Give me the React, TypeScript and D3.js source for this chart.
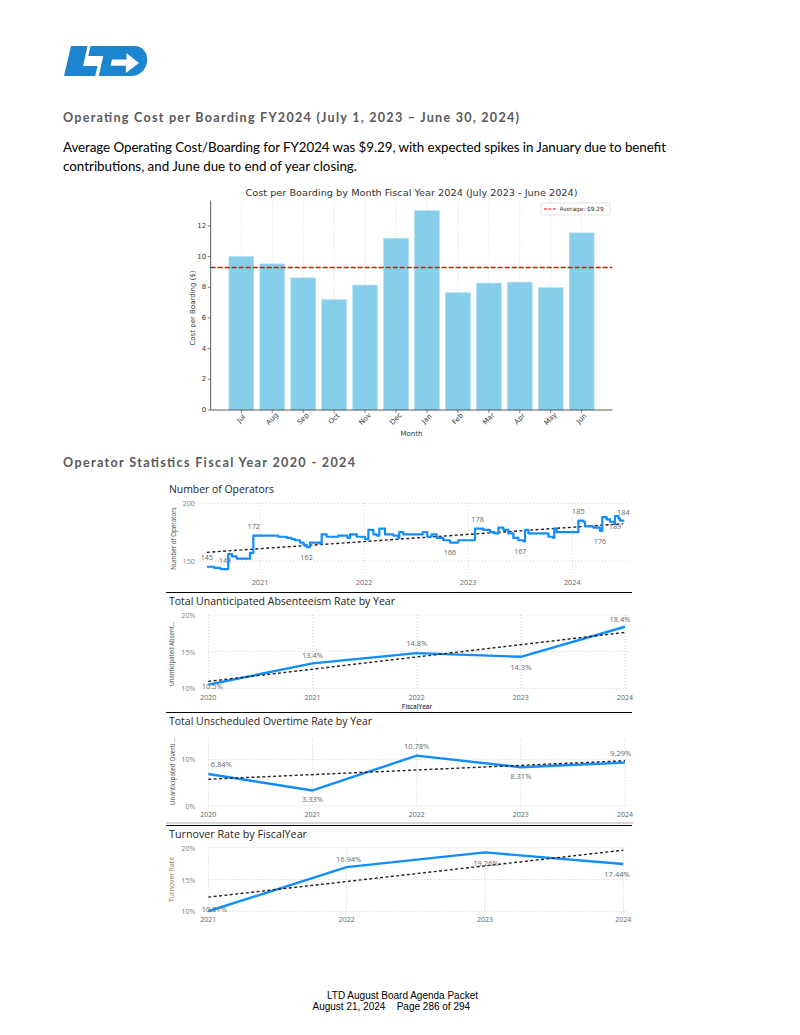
import React from 'react';
import * as d3 from 'd3';

// ---------------- data ----------------
const months = ['Jul', 'Aug', 'Sep', 'Oct', 'Nov', 'Dec', 'Jan', 'Feb', 'Mar', 'Apr', 'May', 'Jun'];
const costPerBoarding = [10.0, 9.52, 8.61, 7.19, 8.14, 11.19, 12.99, 7.64, 8.27, 8.33, 7.97, 11.54];
const averageCost = 9.29;
const costTicks = [0, 2, 4, 6, 8, 10, 12];

const operatorYears = [2021, 2022, 2023, 2024];
const operatorTicks = [150, 200];
// [fractional year, number of operators]
const operatorSeries: [number, number][] = [
  [2020.49, 145], [2020.56, 144], [2020.62, 143], [2020.695, 156], [2020.73, 154], [2020.776, 152],
  [2020.904, 157], [2020.936, 172], [2021.176, 171], [2021.256, 170], [2021.304, 169], [2021.336, 168],
  [2021.384, 166], [2021.418, 164], [2021.448, 162], [2021.48, 166], [2021.576, 165], [2021.592, 173],
  [2021.64, 171], [2021.752, 172], [2021.84, 170], [2021.865, 173], [2021.929, 171], [2022.009, 169],
  [2022.041, 177], [2022.089, 173], [2022.121, 172], [2022.146, 178], [2022.201, 173], [2022.281, 172],
  [2022.329, 170], [2022.338, 175], [2022.377, 173], [2022.563, 175], [2022.607, 171], [2022.649, 173],
  [2022.697, 170], [2022.761, 168], [2022.825, 166], [2022.905, 168], [2023.065, 178], [2023.145, 177],
  [2023.209, 175], [2023.25, 174], [2023.29, 179], [2023.338, 177], [2023.386, 174], [2023.434, 170],
  [2023.482, 168], [2023.53, 167], [2023.546, 177], [2023.578, 174], [2023.77, 171], [2023.818, 170],
  [2023.827, 178], [2023.85, 175], [2024.058, 185], [2024.106, 184], [2024.122, 180], [2024.202, 179],
  [2024.266, 176], [2024.288, 188], [2024.33, 186], [2024.362, 184], [2024.403, 182], [2024.41, 189],
  [2024.442, 187], [2024.458, 185], [2024.49, 184],
];
const operatorTrend: [number, number][] = [[2020.49, 157.5], [2024.49, 182.3]];
const operatorLabels = [
  { t: 2020.49, v: 145, pos: 'above' }, { t: 2020.664, v: 143, pos: 'above' },
  { t: 2020.94, v: 172, pos: 'above' }, { t: 2021.448, v: 162, pos: 'below' },
  { t: 2022.825, v: 166, pos: 'below' }, { t: 2023.09, v: 178, pos: 'above' },
  { t: 2023.5, v: 167, pos: 'below' }, { t: 2024.058, v: 185, pos: 'above' },
  { t: 2024.266, v: 176, pos: 'below' }, { t: 2024.41, v: 189, pos: 'below' },
  { t: 2024.49, v: 184, pos: 'above' },
];

const fiscalYears = [2020, 2021, 2022, 2023, 2024];
const absenteeismRate = [10.5, 13.4, 14.8, 14.3, 18.4];
const absenteeismTicks = [10, 15, 20];
const overtimeRate = [6.84, 3.33, 10.78, 8.31, 9.29];
const overtimeTicks = [0, 10];
const turnoverYears = [2021, 2022, 2023, 2024];
const turnoverRate = [10.01, 16.94, 19.26, 17.44];
const turnoverTicks = [10, 15, 20];

// label placement (layout only)
const absLabelOffsets = [[4, 1], [0, -8.5], [0, -9.8], [0, 10], [-5, -8]];
const overtimeLabelOffsets = [[13, -10], [0, 9], [0, -10], [0, 9], [-4.3, -9.3]];
const turnoverLabelOffsets = [[6, -2.5], [2, -8.6], [1, 10.3], [-6.3, 10.5]];

// ---------------- styles ----------------
const DV = "'DejaVu Sans', sans-serif";
const PB = "'Open Sans', 'Noto Sans', sans-serif";
const DOC = "Lato, 'Open Sans', sans-serif";
const BLUE = '#118DFF';
const GRID = '#c8c6c4';
const LABEL = '#666';
const TICK = '#808080';
const AVG_RED = '#ff0000';

function linearFit(xs: number[], ys: number[]) {
  const mx = d3.mean(xs) as number;
  const my = d3.mean(ys) as number;
  let num = 0, den = 0;
  xs.forEach((x, i) => { num += (x - mx) * (ys[i] - my); den += (x - mx) * (x - mx); });
  const b = num / den;
  const a = my - b * mx;
  return [xs[0], xs[xs.length - 1]].map((x) => [x, a + b * x] as [number, number]);
}

function Logo() {
  const c = '#1b86cf';
  return (
    <g>
      <path d="M71,46 L87.5,46 L83.1,66 L97.5,66 L95.2,76 L64,76 Z" fill={c} />
      <path d="M90.5,46 L134,46 C153,46 151,76 131,76 L98.8,76 L103.2,56 L88.3,56 Z" fill={c} />
      <path d="M112,59.6 L126.6,59.6 L126.4,53 L139,63 L125.8,73 L125.9,65.8 L110.6,65.8 Z" fill="#fff" />
    </g>
  );
}

function BarChart() {
  const x0 = 210.7, x1 = 612.3, yBottom = 410, yTop = 200.7;
  const x = d3.scaleBand<string>().domain(months).range([x0, x1]).paddingInner(0.2).paddingOuter(0.59);
  const yMax = (d3.max(costPerBoarding) as number) * 1.05;
  const y = d3.scaleLinear().domain([0, yMax]).range([yBottom, yTop]);
  const fs = 7;
  const ink = '#333';
  const avgY = y(averageCost);
  return (
    <g fontFamily={DV}>
      <text x={(x0 + x1) / 2} y={196} textAnchor="middle" fontSize={9} fill={ink}
        textLength={332} lengthAdjust="spacingAndGlyphs">
        Cost per Boarding by Month Fiscal Year 2024 (July 2023 - June 2024)
      </text>
      {months.map((m, i) => (
        <rect key={m} x={x(m)} y={y(costPerBoarding[i])} width={x.bandwidth()}
          height={yBottom - y(costPerBoarding[i])} fill="#87CEEB" stroke="#a9ddf2" strokeWidth={0.6} />
      ))}
      {months.map((m) => {
        const cx = (x(m) as number) + x.bandwidth() / 2;
        return <line key={'g' + m} x1={cx} x2={cx} y1={yTop} y2={yBottom} stroke="#b0b0b0"
          strokeWidth={0.6} strokeDasharray="2,1.5" opacity={0.45} />;
      })}
      <path d={`M${x0},${avgY}H${x1}`} fill="none" stroke={AVG_RED} strokeWidth={1.5}
        strokeDasharray="5,2" />
      <line x1={x0} x2={x0} y1={yTop} y2={yBottom} stroke={ink} strokeWidth={0.8} />
      <line x1={x0} x2={x1} y1={yBottom} y2={yBottom} stroke={ink} strokeWidth={0.8} />
      {costTicks.map((t) => (
        <g key={'yt' + t}>
          <line x1={x0 - 3} x2={x0} y1={y(t)} y2={y(t)} stroke={ink} strokeWidth={0.6} />
          <text x={x0 - 4.5} y={y(t)} textAnchor="end" dominantBaseline="central" fontSize={fs} fill={ink}>{t}</text>
        </g>
      ))}
      {months.map((m) => {
        const cx = (x(m) as number) + x.bandwidth() / 2;
        const w = m.length * 0.6 * fs;
        const cy = 412 + (w + fs) * 0.3536;
        return (
          <g key={'xt' + m}>
            <line x1={cx} x2={cx} y1={yBottom} y2={yBottom + 3} stroke={ink} strokeWidth={0.6} />
            <text transform={`translate(${cx},${cy}) rotate(-45)`} textAnchor="middle"
              dominantBaseline="central" fontSize={fs} fill={ink}>{m}</text>
          </g>
        );
      })}
      <text x={(x0 + x1) / 2} y={436} textAnchor="middle" fontSize={fs} fill={ink}>Month</text>
      <text transform={`translate(192.5,308) rotate(-90)`} textAnchor="middle" dominantBaseline="central"
        fontSize={fs} fill={ink}>Cost per Boarding ($)</text>
      <rect x={541} y={203} width={69} height={12} rx={2} fill="#fff" stroke="#d0d0d0" strokeWidth={0.6} />
      <line x1={544} x2={556} y1={209} y2={209} stroke={AVG_RED} strokeWidth={1} strokeDasharray="3,1.4" />
      <text x={559.5} y={209} dominantBaseline="central" fontSize={5.8} fill={ink}>Average: ${averageCost.toFixed(2)}</text>
    </g>
  );
}

function OperatorsChart() {
  const x = d3.scaleLinear().domain([2021, 2024]).range([260, 572.3]);
  const y = d3.scaleLinear().domain([150, 200]).range([561, 503.3]);
  const line = d3.line<[number, number]>().x((d) => x(d[0])).y((d) => y(d[1])).curve(d3.curveStepAfter);
  const trend = d3.line<[number, number]>().x((d) => x(d[0])).y((d) => y(d[1]));
  return (
    <g fontFamily={PB}>
      <text x={169} y={492.5} fontSize={11} fill="#252423" textLength={105} lengthAdjust="spacingAndGlyphs">Number of Operators</text>
      {operatorTicks.map((t) => (
        <g key={t}>
          <line x1={200} x2={629} y1={y(t)} y2={y(t)} stroke={GRID} strokeWidth={0.8} strokeDasharray="1,2" />
          <text x={195} y={y(t)} textAnchor="end" dominantBaseline="central" fontSize={7.3} fill={TICK}>{t}</text>
        </g>
      ))}
      {operatorYears.map((yr) => (
        <g key={yr}>
          <line x1={x(yr)} x2={x(yr)} y1={503} y2={575} stroke={GRID} strokeWidth={0.8} strokeDasharray="1,2" />
          <text x={x(yr)} y={584.5} textAnchor="middle" fontSize={7.3} fill={LABEL}>{yr}</text>
        </g>
      ))}
      <text transform="translate(173.3,538.5) rotate(-90)" textAnchor="middle" dominantBaseline="central"
        fontSize={6.2} fill="#444">Number of Operators</text>
      <path d={trend(operatorTrend) as string} fill="none" stroke="#222" strokeWidth={1.4} strokeDasharray="3,2.4" />
      <path d={line(operatorSeries) as string} fill="none" stroke={BLUE} strokeWidth={2.2} strokeLinejoin="round" />
      {operatorLabels.map((l, i) => (
        <text key={i} x={x(l.t)} y={y(l.v) + (l.pos === 'above' ? -9.3 : 9.6)} textAnchor="middle"
          dominantBaseline="central" fontSize={7.3} fill={LABEL}>{l.v}</text>
      ))}
    </g>
  );
}

interface RateProps {
  title: string; titleY: number; titleW: number;
  yTitle: string; yTitleX: number; yTitleY: number; yTitleW: number; yTitleColor: string;
  years: number[]; values: number[]; ticks: number[];
  xRange: [number, number]; yDomain: [number, number]; yRange: [number, number];
  gridTop: number; gridBottom: number; xLabelY: number; decimals: number;
  offsets: number[][]; fiscalLabel?: boolean;
}

function RateChart(p: RateProps) {
  const x = d3.scaleLinear().domain([p.years[0], p.years[p.years.length - 1]]).range(p.xRange);
  const y = d3.scaleLinear().domain(p.yDomain).range(p.yRange);
  const pts = p.years.map((yr, i) => [yr, p.values[i]] as [number, number]);
  const line = d3.line<[number, number]>().x((d) => x(d[0])).y((d) => y(d[1]));
  const fit = linearFit(p.years, p.values);
  return (
    <g fontFamily={PB}>
      <text x={169} y={p.titleY} fontSize={11} fill="#252423" textLength={p.titleW} lengthAdjust="spacingAndGlyphs">{p.title}</text>
      {p.ticks.map((t) => (
        <g key={t}>
          <line x1={p.xRange[0]} x2={p.xRange[1] + 4} y1={y(t)} y2={y(t)} stroke={GRID} strokeWidth={0.8} strokeDasharray="1,2" />
          <text x={195.5} y={y(t)} textAnchor="end" dominantBaseline="central" fontSize={7.2} fill={TICK}>{t}%</text>
        </g>
      ))}
      {p.years.map((yr) => (
        <g key={yr}>
          <line x1={x(yr)} x2={x(yr)} y1={p.gridTop} y2={p.gridBottom} stroke={GRID} strokeWidth={0.8} strokeDasharray="1,2" />
          <text x={x(yr)} y={p.xLabelY} textAnchor="middle" fontSize={7} fill={LABEL}>{yr}</text>
        </g>
      ))}
      <text transform={`translate(${p.yTitleX},${p.yTitleY}) rotate(-90)`} textAnchor="middle" dominantBaseline="central"
        fontSize={6.2} fill={p.yTitleColor} textLength={p.yTitleW} lengthAdjust="spacingAndGlyphs">{p.yTitle}</text>
      {p.fiscalLabel && (
        <text x={417} y={709} textAnchor="middle" fontSize={6.3} fill="#333" fontWeight={600}>FiscalYear</text>
      )}
      <path d={line(pts) as string} fill="none" stroke={BLUE} strokeWidth={2.4} strokeLinejoin="round" />
      <path d={line(fit) as string} fill="none" stroke="#222" strokeWidth={1.4} strokeDasharray="3,2.4" />
      {pts.map((d, i) => (
        <text key={i} x={x(d[0]) + p.offsets[i][0]} y={y(d[1]) + p.offsets[i][1]} textAnchor="middle"
          dominantBaseline="central" fontSize={7.5} fill={LABEL}>{d[1].toFixed(p.decimals)}%</text>
      ))}
    </g>
  );
}

export default function App() {
  return (
    <svg width={800} height={1035} viewBox="0 0 800 1035" style={{ position: 'absolute', left: 0, top: 0 }}>
      <rect width={800} height={1035} fill="#fff" />
      <Logo />
      <g fontFamily={DOC}>
        <text x={63} y={121.5} fontSize={12.6} fontWeight={700} fill="#595959" textLength={456} lengthAdjust="spacing">
          Operating Cost per Boarding FY2024 (July 1, 2023 – June 30, 2024)
        </text>
        <text x={63} y={151.5} fontSize={13.4} fill="#000" textLength={603} lengthAdjust="spacing">
          Average Operating Cost/Boarding for FY2024 was $9.29, with expected spikes in January due to benefit
        </text>
        <text x={63} y={170.5} fontSize={13.4} fill="#000" textLength={294} lengthAdjust="spacing">
          contributions, and June due to end of year closing.
        </text>
        <text x={63} y={467} fontSize={12.6} fontWeight={700} fill="#595959" textLength={292} lengthAdjust="spacing">
          Operator Statistics Fiscal Year 2020 - 2024
        </text>
      </g>
      <BarChart />
      <OperatorsChart />
      <line x1={166} x2={632} y1={592.5} y2={592.5} stroke="#000" strokeWidth={1} />
      <RateChart title="Total Unanticipated Absenteeism Rate by Year" titleY={604.5} titleW={226}
        yTitle="Unanticipated Absent..." yTitleX={171.7} yTitleY={654} yTitleW={65} yTitleColor="#444"
        years={fiscalYears} values={absenteeismRate} ticks={absenteeismTicks}
        xRange={[208.3, 625]} yDomain={[10, 20]} yRange={[688.3, 615]}
        gridTop={615} gridBottom={689} xLabelY={699.5} decimals={1} offsets={absLabelOffsets} fiscalLabel />
      <line x1={166} x2={632} y1={712.5} y2={712.5} stroke="#000" strokeWidth={1} />
      <RateChart title="Total Unscheduled Overtime Rate by Year" titleY={724.5} titleW={203}
        yTitle="Unanticipated Overti..." yTitleX={172.3} yTitleY={771.7} yTitleW={67} yTitleColor="#444"
        years={fiscalYears} values={overtimeRate} ticks={overtimeTicks}
        xRange={[208.3, 625]} yDomain={[0, 10]} yRange={[806, 759.3]}
        gridTop={738.3} gridBottom={806.5} xLabelY={817} decimals={2} offsets={overtimeLabelOffsets} />
      <line x1={166} x2={633} y1={823} y2={823} stroke="#999" strokeWidth={0.8} />
      <line x1={166} x2={632} y1={825.5} y2={825.5} stroke="#000" strokeWidth={1} />
      <RateChart title="Turnover Rate by FiscalYear" titleY={837.5} titleW={138}
        yTitle="Turnover Rate" yTitleX={171} yTitleY={879.5} yTitleW={45} yTitleColor="#a07c3e"
        years={turnoverYears} values={turnoverRate} ticks={turnoverTicks}
        xRange={[208.3, 623.3]} yDomain={[10, 20]} yRange={[911.3, 847.7]}
        gridTop={847.7} gridBottom={911.5} xLabelY={922} decimals={2} offsets={turnoverLabelOffsets} />
      <g fontFamily="'Liberation Sans', Arial, sans-serif" fontSize={10} fill="#000">
        <text x={402.5} y={998.5} textAnchor="middle">LTD August Board Agenda Packet</text>
        <text x={312.5} y={1010}>August 21, 2024</text>
        <text x={396.7} y={1010}>Page 286 of 294</text>
      </g>
    </svg>
  );
}
